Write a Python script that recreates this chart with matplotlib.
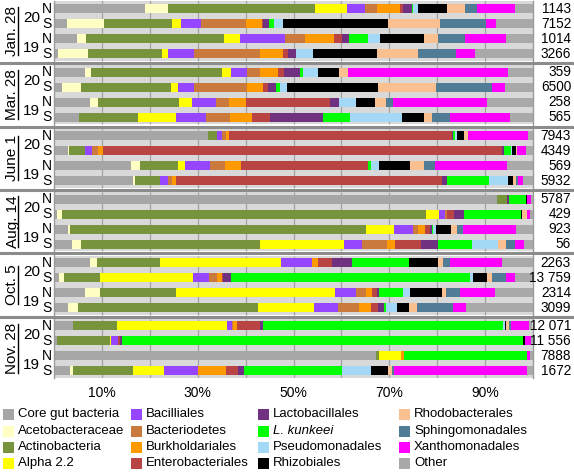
import matplotlib
matplotlib.use("Agg")
import matplotlib.pyplot as plt
import matplotlib.transforms as mtransforms
from matplotlib.lines import Line2D
from matplotlib.patches import Rectangle
import numpy as np

plt.rcParams["font.family"] = ["Liberation Sans", "DejaVu Sans"]

# sampling dates (top to bottom), each with rows 20N, 20S, 19N, 19S
dates = ["Jan. 28", "Mar. 28", "June 1", "Aug. 14", "Oct. 5", "Nov. 28"]
years = ["20", "19"]
sites = ["N", "S"]
counts = ["1143", "7152", "1014", "3266",
          "359", "6500", "258", "565",
          "7943", "4349", "569", "5932",
          "5787", "429", "923", "56",
          "2263", "13 759", "2314", "3099",
          "12 071", "11 556", "7888", "1672"]

categories = ["Core gut bacteria", "Acetobacteraceae", "Actinobacteria", "Alpha 2.2",
              "Bacilliales", "Bacteriodetes", "Burkholdariales", "Enterobacteriales",
              "Lactobacillales", "L. kunkeei", "Pseudomonadales", "Rhizobiales",
              "Rhodobacterales", "Sphingomonadales", "Xanthomonadales", "Other"]
colors = ["#a6a6a6", "#ffffc4", "#77933c", "#ffff00",
          "#9646ff", "#c97a3c", "#ff9900", "#b94444",
          "#6f3180", "#00ff00", "#a3d8f6", "#000000",
          "#fac090", "#517c96", "#ff00ff", "#a9a9a9"]

# relative abundance (%) per row
core = [19.0, 2.7, 4.8, 0.8, 6.5, 1.7, 7.5, 5.2, 32.2, 2.9, 16.1, 16.5,
        92.5, 0.6, 2.9, 3.8, 7.5, 1.0, 6.5, 2.9, 4.0, 0.6, 67.2, 3.3]
aceto = [4.8, 7.7, 1.9, 6.3, 1.2, 3.9, 1.7, 0, 0, 0.2, 1.9, 0.4,
         0, 1.1, 0.4, 1.8, 1.5, 1.1, 3.1, 2.1, 0, 0, 0, 0.7]
actino = [30.7, 14.2, 28.8, 15.4, 27.4, 18.8, 16.9, 12.3, 1.8, 3.4, 7.9, 5.2,
          2.1, 76.0, 61.8, 37.4, 13.1, 7.5, 15.9, 37.6, 9.2, 11.1, 0.6, 12.5]
alpha = [6.7, 1.9, 3.3, 1.3, 1.9, 1.5, 2.7, 8.0, 0, 0, 1.4, 0,
         0, 2.7, 5.9, 17.5, 25.3, 19.4, 33.2, 11.7, 22.9, 0.2, 4.6, 6.5]
bacil = [3.7, 4.2, 9.4, 5.4, 3.3, 3.3, 5.0, 6.2, 1.1, 1.4, 5.3, 1.7,
         0, 1.2, 3.9, 3.8, 6.5, 3.4, 4.3, 5.0, 1.1, 1.5, 0, 7.1]
bacter = [2.5, 9.4, 4.2, 13.8, 2.7, 11.1, 2.7, 5.0, 0.8, 1.3, 3.1, 0.8,
          0, 0.4, 1.1, 5.2, 0, 1.6, 2.1, 4.4, 0.2, 0, 0, 0]
burk = [4.8, 3.3, 6.1, 4.8, 3.8, 3.3, 3.6, 4.6, 0.6, 1.0, 3.3, 0.9,
        0, 0, 1.5, 1.7, 1.2, 1.1, 1.3, 2.5, 0.8, 0, 0.7, 5.8]
entero = [0.7, 0.2, 1.6, 1.1, 1.2, 1.1, 17.5, 3.8, 46.6, 83.3, 26.6, 55.5,
          0, 1.5, 1.0, 5.4, 2.9, 0.2, 1.0, 1.4, 4.8, 0.4, 0, 2.5]
lacto = [1.8, 1.3, 1.5, 1.6, 3.4, 1.6, 1.9, 11.1, 0.2, 0.4, 0, 1.0,
         0.4, 2.1, 0.4, 3.6, 4.2, 1.7, 0.4, 1.3, 0.6, 0.4, 0, 1.3]
kunk = [0.2, 1.0, 4.0, 0, 0.6, 0.9, 0, 5.6, 0.4, 1.5, 0.6, 8.8,
        3.5, 11.9, 0.2, 7.1, 11.9, 49.8, 5.1, 0.4, 50.1, 83.7, 25.6, 20.4]
pseudo = [1.1, 1.9, 2.5, 3.6, 3.1, 1.4, 3.5, 10.9, 0.5, 0.2, 1.6, 4.0,
          0, 0, 0.6, 5.4, 0, 0.7, 1.4, 2.3, 0.5, 0, 0, 6.1]
rhizo = [6.0, 21.9, 9.1, 13.3, 4.4, 19.0, 4.0, 4.5, 1.4, 0.9, 6.5, 1.0,
         0.2, 0.2, 3.2, 0, 6.1, 2.9, 6.7, 2.5, 0.2, 0.4, 0, 3.5]
rhodo = [3.8, 10.9, 3.0, 8.6, 1.9, 12.1, 2.3, 1.7, 0.8, 0.2, 2.9, 0.7,
         0, 1.0, 1.2, 1.7, 1.0, 1.0, 0.8, 1.7, 0.6, 0, 0, 0.9]
sphingo = [2.5, 9.6, 5.6, 7.9, 0, 11.7, 1.5, 3.8, 0, 0, 2.3, 0.4,
           0, 0, 1.3, 1.8, 1.5, 3.0, 3.0, 7.5, 0.4, 0, 0, 0.4]
xantho = [7.9, 2.1, 8.6, 4.0, 33.4, 2.8, 19.6, 12.5, 12.6, 1.8, 15.1, 1.0,
          0.9, 0.7, 11.1, 1.9, 10.8, 1.8, 7.3, 2.7, 3.8, 1.2, 0.7, 27.7]
other = [3.8, 7.7, 5.6, 12.1, 5.2, 5.8, 9.6, 4.8, 1.0, 1.5, 5.4, 2.1,
         0.4, 0.6, 3.5, 1.9, 6.5, 3.8, 7.9, 14.0, 0.6, 0.5, 0.6, 1.3]

series = [core, aceto, actino, alpha, bacil, bacter, burk, entero,
          lacto, kunk, pseudo, rhizo, rhodo, sphingo, xantho, other]

W, H = 574, 474
fig = plt.figure(figsize=(W / 100, H / 100), dpi=100)
ax = fig.add_axes([54 / W, 1 - 378 / H, 479 / W, 377 / H])

gs = 63.4 / 15.0  # group spacing in row units
ys = np.array([g * gs + r for g in range(len(dates)) for r in range(4)])

ax.set_xlim(0, 100)
ax.set_ylim(24.6, -0.533)

# background bands + vertical grid per date group
for g in range(len(dates)):
    y0 = g * gs - (0.7 if g == 0 else 0.47)
    y1 = g * gs + 3.47
    ax.axhspan(y0, y1, color="#d9d9d9", lw=0, zorder=0)
    ax.vlines(np.arange(10, 100, 10), y0, y1, color="#a2a2a2", lw=0.9, zorder=1)

left = np.zeros(len(ys))
for vals, c in zip(series, colors):
    vals = np.array(vals)
    ax.barh(ys, vals, left=left, height=0.6, color=c, lw=0, zorder=2)
    left += vals

for s in ["top", "bottom"]:
    ax.spines[s].set_visible(False)
for s in ["left", "right"]:
    ax.spines[s].set_color("#9a9a9a")
    ax.spines[s].set_linewidth(1)

ax.set_yticks([])
ax.set_xticks([10, 30, 50, 70, 90], ["10%", "30%", "50%", "70%", "90%"])
ax.tick_params(axis="x", length=0, pad=6, labelsize=10)

trans = mtransforms.blended_transform_factory(fig.transFigure, ax.transData)

# separators between date groups, full width
for g in range(len(dates) - 1):
    y = g * gs + 3 + (gs - 3) / 2
    fig.add_artist(Line2D([0, 1], [y, y], transform=trans, color="#8c8c8c", lw=2.2))

date_texts = []
for g, d in enumerate(dates):
    t = ax.text(12.5 / W, g * gs + 1.5, d, rotation=90, ha="center", va="center",
                fontsize=11, transform=trans)
    date_texts.append(t)
    for k, yr in enumerate(years):
        base = g * gs + 2 * k
        ax.text(31.5 / W, base + 0.6, yr, ha="center", va="center", fontsize=11,
                transform=trans)
        ax.text(46.5 / W, base, sites[0], ha="center", va="center",
                fontsize=10, transform=trans)
        ax.text(46.5 / W, base + 1, sites[1], ha="center", va="center",
                fontsize=10, transform=trans)

for y, c in zip(ys, counts):
    ax.text(571 / W, y, c, ha="right", va="center", fontsize=9.8, transform=trans)

# legend, column-major
leg_rows = [414, 431, 447, 463]
leg_box_x = [3, 131, 258, 399]
leg_txt_x = [18, 146, 273, 414]
for i, (name, c) in enumerate(zip(categories, colors)):
    col, row = divmod(i, 4)
    yc = leg_rows[row]
    fig.add_artist(Rectangle((leg_box_x[col] / W, 1 - (yc + 5.5) / H), 11 / W, 11 / H,
                             transform=fig.transFigure, color=c, lw=0))
    fig.text(leg_txt_x[col] / W, 1 - yc / H, name, va="center", fontsize=9.5,
             style="italic" if name == "L. kunkeei" else "normal")

# underline the rotated date labels
fig.canvas.draw()
renderer = fig.canvas.get_renderer()
for t in date_texts:
    bb = t.get_window_extent(renderer)
    x = bb.x1 - 2
    fig.add_artist(Line2D([x / W, x / W], [(bb.y0 + 1) / H, (bb.y1 - 1) / H],
                          transform=fig.transFigure, color="black", lw=1))

fig.savefig("out.png", dpi=100)
